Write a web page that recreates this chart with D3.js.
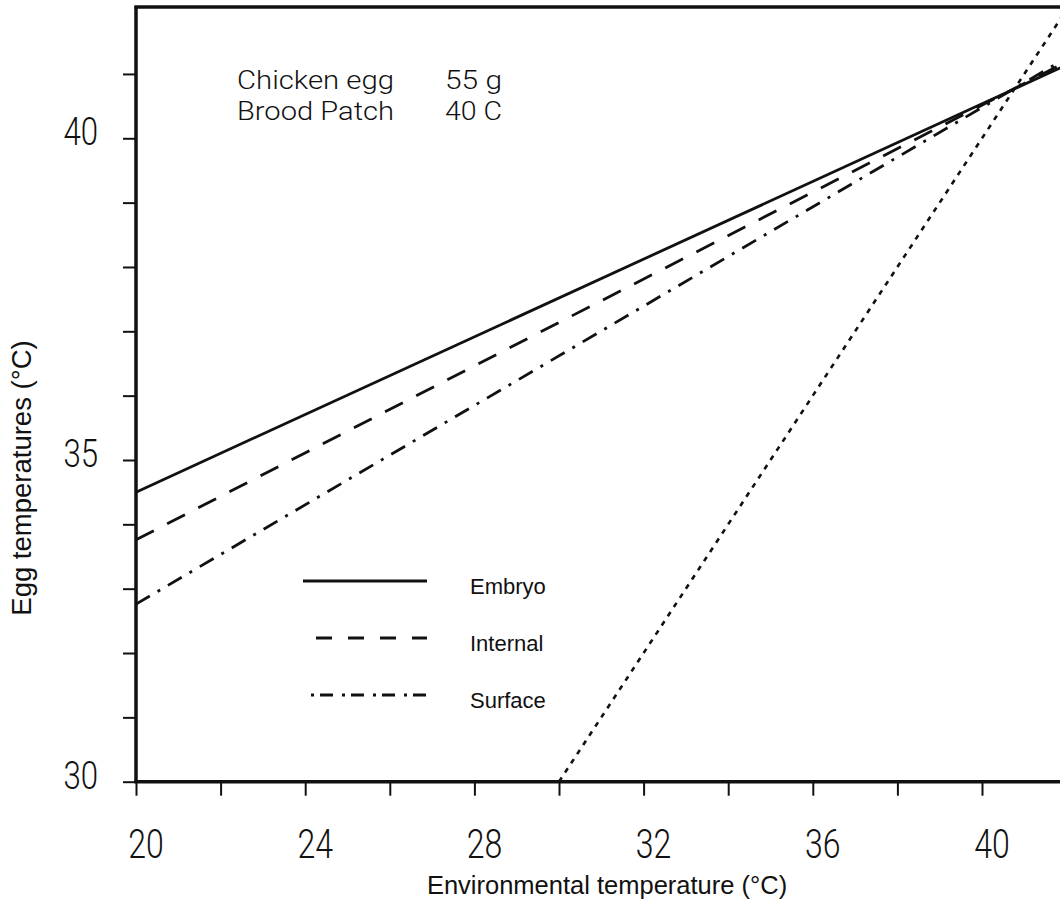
<!DOCTYPE html>
<html>
<head>
<meta charset="utf-8">
<script src="https://cdn.jsdelivr.net/npm/d3@7"></script>
<style>
  html, body { margin: 0; padding: 0; background: #fff; }
  svg { display: block; }
</style>
</head>
<body>
<svg id="chart" width="1060" height="911"></svg>
<script>
// Environmental temperature (°C) at the two ends of each straight response line
const envTemps = [20, 42];
// Egg temperatures (°C) read at those environmental temperatures
const embryoTemps = [34.5, 41.14];
const internalTemps = [33.76, 41.19];
const surfaceTemps = [32.76, 41.25];
// Reference line where egg temperature equals environmental temperature
const equalityEnv = [30, 42];
const equalityEgg = [30, 42];

const seriesNames = ["Embryo", "Internal", "Surface"];

const xTickValues = [20, 22, 24, 26, 28, 30, 32, 34, 36, 38, 40, 42];
const xTickLabels = [20, 24, 28, 32, 36, 40];
const yTickValues = [30, 31, 32, 33, 34, 35, 36, 37, 38, 39, 40, 41];
const yTickLabels = [30, 35, 40];

const infoRows = [["Chicken egg", "55 g"], ["Brood Patch", "40 C"]];

const xTitle = "Environmental temperature (°C)";
const yTitle = "Egg temperatures (°C)";

// ---- layout ----
const svg = d3.select("#chart");
svg.append("rect").attr("width", 1060).attr("height", 911).attr("fill", "#fff");

const x = d3.scaleLinear().domain([20, 42]).range([136, 1066.6]);
const y = d3.scaleLinear().domain([30, 42]).range([781.7, 9.6]);
const yFrameTop = y(42.04);

const ink = "#111";
const plotFont = "Roboto, 'DejaVu Sans', sans-serif";
const textFont = "'Liberation Sans', Arial, Helvetica, sans-serif";

// ---- ticks ----
const xAxis = d3.axisBottom(x).tickValues(xTickValues).tickSize(14).tickFormat("");
const gx = svg.append("g").attr("transform", `translate(0,${y(30)})`).call(xAxis);
gx.select(".domain").remove();
gx.selectAll(".tick line").attr("stroke", ink).attr("stroke-width", 2);

const yAxis = d3.axisLeft(y).tickValues(yTickValues).tickSize(13).tickFormat("");
const gy = svg.append("g").attr("transform", `translate(${x(20)},0)`).call(yAxis);
gy.select(".domain").remove();
gy.selectAll(".tick line").attr("stroke", ink).attr("stroke-width", 2);

// ---- frame ----
const frame = svg.append("g").attr("stroke", ink).attr("stroke-width", 3.5).attr("fill", "none");
frame.append("line")
  .attr("x1", x(20)).attr("x2", x(20))
  .attr("y1", yFrameTop).attr("y2", y(30));
frame.append("line")
  .attr("x1", x(20) - 1.75).attr("x2", x(42))
  .attr("y1", y(30)).attr("y2", y(30));
frame.append("line")
  .attr("x1", x(20) - 1.75).attr("x2", x(42))
  .attr("y1", yFrameTop).attr("y2", yFrameTop);

// ---- tick labels ----
svg.append("g").selectAll("text")
  .data(xTickLabels)
  .join("text")
  .attr("transform", d => `translate(${x(d) + 10},858) scale(0.8,1)`)
  .attr("text-anchor", "middle")
  .attr("font-family", plotFont)
  .attr("font-weight", 300)
  .attr("font-size", 40)
  .attr("fill", ink)
  .text(d => d);

svg.append("g").selectAll("text")
  .data(yTickLabels)
  .join("text")
  .attr("transform", d => `translate(98,${y(d) + 7}) scale(0.8,1)`)
  .attr("text-anchor", "end")
  .attr("font-family", plotFont)
  .attr("font-weight", 300)
  .attr("font-size", 39)
  .attr("fill", ink)
  .text(d => d);

// ---- response lines ----
const styles = {
  Embryo:   { dash: null },
  Internal: { dash: "20,15" },
  Surface:  { dash: "16,9,3,9" }
};
const seriesValues = { Embryo: embryoTemps, Internal: internalTemps, Surface: surfaceTemps };

const line = d3.line().x(d => x(d[0])).y(d => y(d[1]));

seriesNames.forEach(name => {
  const pts = envTemps.map((t, i) => [t, seriesValues[name][i]]);
  svg.append("path")
    .datum(pts)
    .attr("d", line)
    .attr("fill", "none")
    .attr("stroke", ink)
    .attr("stroke-width", 2.8)
    .attr("stroke-dasharray", styles[name].dash);
});

svg.append("path")
  .datum(equalityEnv.map((t, i) => [t, equalityEgg[i]]))
  .attr("d", line)
  .attr("fill", "none")
  .attr("stroke", ink)
  .attr("stroke-width", 2.6)
  .attr("stroke-dasharray", "5,6");

// ---- legend ----
const legendRows = [
  { name: "Embryo",   y: 581, x1: 303, dash: null },
  { name: "Internal", y: 638, x1: 316, dash: "16,16" },
  { name: "Surface",  y: 695, x1: 311, dash: "3,6,13,9" }
];
const legend = svg.append("g");
legendRows.forEach(r => {
  legend.append("line")
    .attr("x1", r.x1).attr("x2", 427)
    .attr("y1", r.y).attr("y2", r.y)
    .attr("stroke", ink)
    .attr("stroke-width", 2.8)
    .attr("stroke-dasharray", r.dash);
  legend.append("text")
    .attr("x", 470).attr("y", r.y + 6.5)
    .attr("dy", "0.3em")
    .attr("font-family", textFont)
    .attr("font-size", 22)
    .attr("fill", ink)
    .text(r.name);
});

// ---- specimen note ----
const note = svg.append("g")
  .attr("font-family", plotFont)
  .attr("font-weight", 300)
  .attr("font-size", 26)
  .attr("fill", ink);
infoRows.forEach((row, i) => {
  note.append("text")
    .attr("x", 237).attr("y", 89 + i * 31)
    .attr("textLength", 157).attr("lengthAdjust", "spacingAndGlyphs")
    .text(row[0]);
  note.append("text")
    .attr("x", 445).attr("y", 89 + i * 31)
    .attr("textLength", 57).attr("lengthAdjust", "spacingAndGlyphs")
    .text(row[1]);
});

// ---- axis titles ----
svg.append("text")
  .attr("x", 607).attr("y", 894)
  .attr("text-anchor", "middle")
  .attr("font-family", textFont)
  .attr("font-size", 25.5)
  .attr("fill", ink)
  .text(xTitle);

svg.append("text")
  .attr("transform", "translate(31,478) rotate(-90)")
  .attr("text-anchor", "middle")
  .attr("font-family", textFont)
  .attr("font-size", 27.5)
  .attr("fill", ink)
  .text(yTitle);
</script>
</body>
</html>
